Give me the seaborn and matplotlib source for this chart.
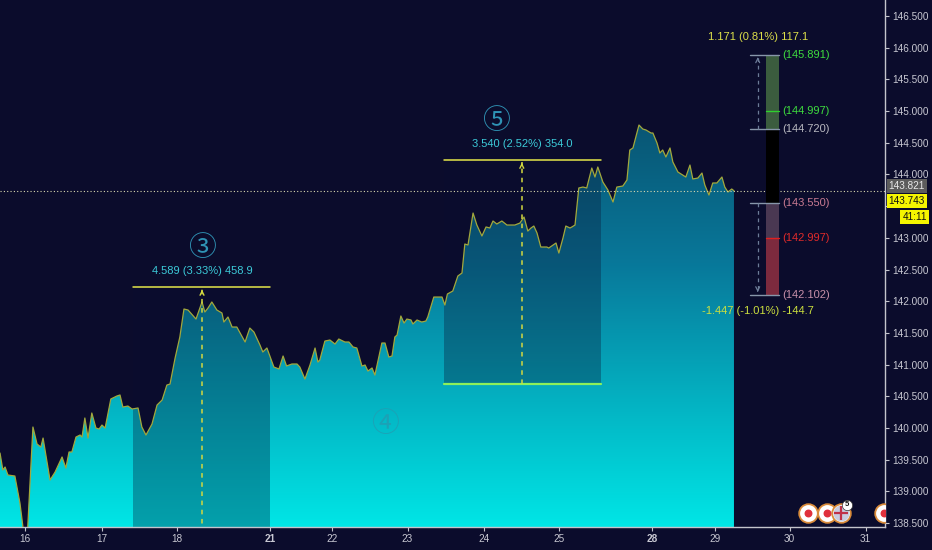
import numpy as np
import pandas as pd
import matplotlib
matplotlib.use("Agg")
import matplotlib.pyplot as plt
import matplotlib.transforms as mtransforms
from matplotlib.colors import LinearSegmentedColormap
from matplotlib.patches import Rectangle
import seaborn as sns

# ---------------- data (trading hours from left edge, price) ----------------
hours = [0.0, 0.9, 1.6, 2.5, 4.7, 6.3, 7.4, 8.7, 10.4, 11.7, 12.9, 13.6, 15.8, 17.4,
         19.6, 20.8, 21.8, 22.7, 24.0, 25.3, 25.9, 26.8, 27.8, 29.0, 30.3, 31.3, 32.2,
         33.2, 35.0, 36.9, 37.9, 38.8, 40.4, 41.7, 43.6, 44.8, 46.1, 48.0, 49.6, 51.2,
         52.7, 53.7, 55.3, 56.8, 58.1, 59.4, 61.9, 63.8, 64.7, 65.7, 66.9, 68.5, 70.1,
         70.7, 72.0, 73.3, 74.8, 77.4, 78.9, 80.2, 82.1, 83.0, 84.3, 86.5, 88.1, 89.4,
         90.5, 92.2, 93.8, 94.7, 96.3, 97.9, 99.5, 100.4, 101.0, 102.6, 104.2, 105.8,
         107.0, 108.9, 110.2, 111.5, 112.7, 114.3, 115.3, 116.2, 117.5, 118.4, 120.6,
         121.6, 122.8, 123.8, 124.7, 125.4, 126.6, 127.6, 128.5, 129.8, 130.4, 131.7,
         133.2, 134.5, 135.1, 137.0, 139.6, 140.5, 141.3, 143.0, 144.6, 145.9, 146.8,
         147.8, 149.4, 150.6, 152.2, 153.5, 154.7, 155.7, 156.9, 158.5, 160.1, 162.6,
         164.2, 165.5, 166.7, 167.7, 168.6, 169.6, 170.8, 172.7, 173.3, 175.6, 176.5,
         177.8, 178.7, 180.0, 180.6, 181.6, 182.8, 184.1, 185.3, 186.9, 187.9, 188.8,
         190.4, 192.0, 193.6, 194.8, 196.7, 198.0, 198.9, 199.9, 201.8, 203.0, 204.0,
         205.6, 206.2, 207.5, 208.4, 209.3, 210.3, 211.6, 212.5, 214.1, 216.6, 217.9,
         218.8, 220.4, 221.7, 222.6, 223.9, 225.1, 226.4, 228.0, 228.9, 229.9, 231.1,
         231.8]
prices = [139.607, 139.339, 139.386, 139.260, 139.244, 138.818, 138.380, 138.380,
          140.017, 139.749, 139.701, 139.843, 139.181, 139.307, 139.544, 139.370,
          139.623, 139.623, 139.859, 139.891, 139.859, 140.159, 139.843, 140.238,
          140.001, 139.985, 140.048, 140.001, 140.459, 140.506, 140.522, 140.332,
          140.348, 140.301, 140.317, 140.017, 139.891, 140.064, 140.364, 140.443,
          140.679, 140.695, 141.105, 141.437, 141.878, 141.862, 141.720, 141.989,
          141.831, 141.894, 141.989, 141.862, 141.815, 141.673, 141.752, 141.594,
          141.594, 141.358, 141.578, 141.515, 141.310, 141.200, 141.263, 140.963,
          140.932, 141.137, 140.980, 141.011, 141.011, 140.963, 140.774, 140.995,
          141.263, 141.042, 141.074, 141.373, 141.389, 141.326, 141.405, 141.358,
          141.358, 141.279, 141.263, 140.979, 140.995, 140.900, 140.948, 140.837,
          141.342, 141.342, 141.121, 141.137, 141.437, 141.468, 141.768, 141.657,
          141.720, 141.705, 141.642, 141.705, 141.673, 141.689, 141.752, 142.067,
          142.067, 141.941, 142.115, 142.162, 142.399, 142.446, 142.903, 142.888,
          143.392, 143.203, 143.030, 143.172, 143.156, 143.266, 143.219, 143.266,
          143.203, 143.203, 143.234, 143.329, 143.108, 143.156, 143.187, 143.077,
          142.856, 142.856, 142.840, 142.919, 142.761, 142.998, 143.187, 143.156,
          143.172, 143.203, 143.787, 143.802, 143.787, 144.102, 143.960, 144.118,
          143.881, 143.755, 143.566, 143.802, 143.818, 143.913, 144.386, 144.418,
          144.780, 144.717, 144.702, 144.654, 144.654, 144.496, 144.339, 144.386,
          144.276, 144.418, 144.197, 144.039, 143.960, 144.149, 143.929, 143.944,
          144.023, 143.834, 143.676, 143.866, 143.866, 143.960, 143.802, 143.724,
          143.771, 143.743]

day_ticks = [7.9, 32.2, 56.0, 85.3, 104.8, 128.7, 152.8, 176.7, 205.9, 225.8, 249.4, 273.4]
day_labels = ["16", "17", "18", "21", "22", "23", "24", "25", "28", "29", "30", "31"]
bold_days = ["21", "28"]
price_ticks = [138.5, 139.0, 139.5, 140.0, 140.5, 141.0, 141.5, 142.0, 142.5,
               143.0, 143.5, 144.0, 144.5, 145.0, 145.5, 146.0, 146.5]
hidden_tick = 143.5   # covered by the price tags

# measure boxes
box_start = [42.0, 140.2]
box_end = [85.3, 189.8]
box_arrow = [63.8, 164.8]
box_top = [142.225, 144.228]
box_change = [4.589, 3.540]
box_text = ["4.589 (3.33%) 458.9", "3.540 (2.52%) 354.0"]
box_number = ["③", "⑤"]
box_number_x = [63.8, 156.6]
wave4_pos = (121.6, 140.064)

# risk / reward tool
rr_left, rr_right, rr_arrow = 241.9, 246.0, 239.3
rr_target, rr_tp, rr_entry_hi = 145.891, 144.997, 144.720
rr_entry_lo, rr_sl, rr_stop = 143.550, 142.997, 142.102
rr_up_text = "1.171 (0.81%) 117.1"
rr_dn_text = "-1.447 (-1.01%) -144.7"

last_price = 143.743
prev_price = 143.821
countdown = "41:11"
event_x = [255.1, 261.1, 279.1]
flag_x = 265.6

# ---------------- style ----------------
BG = "#0b0c2c"
sns.set_theme(style="dark")
plt.rcParams["font.family"] = ["Liberation Sans", "DejaVu Sans"]
plt.rcParams["axes.facecolor"] = BG
plt.rcParams["figure.facecolor"] = BG
CIRCLED = ["Noto Sans CJK SC", "DejaVu Sans"]

fig = plt.figure(figsize=(9.32, 5.5), dpi=100)
ax = fig.add_axes([0.0, 23 / 550, 885 / 932, 527 / 550])
ax.set_facecolor(BG)
XMAX = 279.5
YLO, YHI = 138.44, 146.752
ax.set_xlim(0, XMAX)
ax.set_ylim(YLO, YHI)

df = pd.DataFrame({"hour": hours, "price": prices})

# gradient area
poly = ax.fill_between(df["hour"], df["price"], 130, color="none", lw=0)
cmap = LinearSegmentedColormap.from_list("area", ["#0a3752", "#08789a", "#00e6e6"])
im = ax.imshow(np.linspace(0, 1, 256).reshape(-1, 1), extent=[0, XMAX, YLO, YHI],
               aspect="auto", cmap=cmap, origin="upper", zorder=1, vmin=0, vmax=1)
im.set_clip_path(poly.get_paths()[0], transform=ax.transData)

# measure box overlays
for i in range(2):
    bottom = box_top[i] - box_change[i]
    ax.add_patch(Rectangle((box_start[i], bottom), box_end[i] - box_start[i],
                           box_change[i], facecolor="#0a0f30", alpha=0.32,
                           edgecolor="none", zorder=2))

# price line
sns.lineplot(data=df, x="hour", y="price", ax=ax, color="#a3a83c", lw=0.9,
             estimator=None, sort=False, zorder=4)

# dotted last-price line
ax.axhline(last_price, color="#d8d8b0", lw=0.8, ls=(0, (1, 2)), zorder=5)

# measure lines / arrows / labels
for i in range(2):
    bottom = box_top[i] - box_change[i]
    ax.plot([box_start[i], box_end[i]], [box_top[i], box_top[i]], color="#e4e64a",
            lw=1.1, zorder=6)
    if bottom > YLO:
        ax.plot([box_start[i], box_end[i]], [bottom, bottom], color="#8cf05a",
                lw=1.6, zorder=6)
    ax.plot([box_arrow[i], box_arrow[i]], [bottom, box_top[i] - 0.03], color="#d2d840",
            lw=1.1, ls=(0, (3, 3)), zorder=6)
    ax.annotate("", xy=(box_arrow[i], box_top[i]), xytext=(box_arrow[i], box_top[i] - 0.12),
                arrowprops=dict(arrowstyle="->", color="#d2d840", lw=1.0,
                                mutation_scale=7), zorder=6)
    ax.annotate(box_text[i], xy=(box_arrow[i], box_top[i]), xytext=(0, 11.5),
                textcoords="offset points", ha="center", va="center",
                color="#3ccad8", fontsize=8, zorder=7)
    ax.annotate(box_number[i], xy=(box_number_x[i], box_top[i]),
                xytext=(0, 28), textcoords="offset points", ha="center", va="center",
                color="#2f93b5", fontsize=20, family=CIRCLED, zorder=7)
ax.text(wave4_pos[0], wave4_pos[1], "④", ha="center", va="center", color="#1f9fb4",
        fontsize=20, family=CIRCLED, zorder=3, alpha=0.9)

# risk / reward tool
w = rr_right - rr_left
ax.add_patch(Rectangle((rr_left, rr_entry_hi), w, rr_target - rr_entry_hi,
                       facecolor="#3b5c3e", edgecolor="none", zorder=6))
ax.add_patch(Rectangle((rr_left, rr_entry_lo), w, rr_entry_hi - rr_entry_lo,
                       facecolor="#000000", edgecolor="none", zorder=6))
ax.add_patch(Rectangle((rr_left, rr_sl), w, rr_entry_lo - rr_sl,
                       facecolor="#4a3852", edgecolor="none", zorder=6))
ax.add_patch(Rectangle((rr_left, rr_stop), w, rr_sl - rr_stop,
                       facecolor="#7c2a3e", edgecolor="none", zorder=6))
ax.plot([rr_left, rr_right], [rr_tp, rr_tp], color="#2ed02e", lw=1, zorder=7)
ax.plot([rr_left, rr_right], [rr_sl, rr_sl], color="#e02020", lw=1, zorder=7)
for lvl in [rr_target, rr_entry_hi, rr_entry_lo, rr_stop]:
    ax.plot([rr_arrow - 2.5, rr_right], [lvl, lvl], color="#8796aa", lw=1, zorder=7)
ax.plot([rr_arrow, rr_arrow], [rr_entry_hi, rr_target - 0.05], color="#6c7c98", lw=0.9,
        ls=(0, (3, 3)), zorder=7)
ax.plot([rr_arrow, rr_arrow], [rr_entry_lo, rr_stop + 0.05], color="#6c7c98", lw=0.9,
        ls=(0, (3, 3)), zorder=7)
ax.annotate("", xy=(rr_arrow, rr_target), xytext=(rr_arrow, rr_target - 0.12),
            arrowprops=dict(arrowstyle="->", color="#6c7c98", lw=0.9, mutation_scale=7))
ax.annotate("", xy=(rr_arrow, rr_stop), xytext=(rr_arrow, rr_stop + 0.12),
            arrowprops=dict(arrowstyle="->", color="#6c7c98", lw=0.9, mutation_scale=7))
rr_labels = [(rr_target, "#3edc3e"), (rr_tp, "#3edc3e"), (rr_entry_hi, "#b8b8c0"),
             (rr_entry_lo, "#c97a92"), (rr_sl, "#e02a2a"), (rr_stop, "#c890aa")]
for lvl, col in rr_labels:
    ax.text(rr_right + 1.1, lvl, f"({lvl:.3f})", color=col, fontsize=8,
            ha="left", va="center", zorder=8)
ax.annotate(rr_up_text, xy=(rr_arrow, rr_target), xytext=(0, 12.5), textcoords="offset points",
            ha="center", va="center", color="#dde04a", fontsize=8)
ax.annotate(rr_dn_text, xy=(rr_arrow, rr_stop), xytext=(0, -12), textcoords="offset points",
            ha="center", va="center", color="#cde03e", fontsize=8)

# event icons
ev_y = YLO + 0.22
ax.scatter(event_x + [flag_x], [ev_y] * 4, s=180, facecolor="white", edgecolor="#d98b3a",
           linewidth=1.3, zorder=9)
ax.scatter(event_x, [ev_y] * 3, s=22, color="#e0303c", zorder=10)
ax.scatter([flag_x], [ev_y], s=110, color="#c8cce0", zorder=10)
ax.scatter([flag_x], [ev_y], s=90, marker="+", color="#c03048", linewidth=1.6, zorder=11)
ax.scatter([flag_x + 2.0], [ev_y + 0.13], s=55, facecolor="white", edgecolor="#333",
           linewidth=0.5, zorder=12)
ax.text(flag_x + 2.0, ev_y + 0.13, "5", fontsize=5.5, ha="center", va="center",
        color="#111", zorder=13, weight="bold")

# axes
for s in ["top", "left"]:
    ax.spines[s].set_visible(False)
for s in ["right", "bottom"]:
    ax.spines[s].set_visible(True)
    ax.spines[s].set_color("#c4c4cc")
    ax.spines[s].set_linewidth(1.0)
ax.yaxis.tick_right()
ax.set_yticks(price_ticks)
ax.set_yticklabels(["" if v == hidden_tick else f"{v:.3f}" for v in price_ticks])
ax.set_xticks(day_ticks)
ax.set_xticklabels(day_labels)
for lab in ax.get_xticklabels():
    if lab.get_text() in bold_days:
        lab.set_fontweight("bold")
ax.tick_params(axis="both", colors="#c4c4cc", labelcolor="#c8c8d2", labelsize=7.2,
               length=3, width=0.8, direction="out", pad=2)
ax.tick_params(axis="y", right=True, left=False, labelright=True, labelleft=False)
ax.tick_params(axis="x", bottom=True)
ax.set_xlabel("")
ax.set_ylabel("")
ax.grid(False)

# price tags on right axis
tr = mtransforms.blended_transform_factory(ax.transAxes, ax.transData)
ax.text(1.004, prev_price, f"{prev_price:.3f}", transform=tr, fontsize=7.2, color="#e8e8e8",
        ha="left", va="center", clip_on=False, zorder=20,
        bbox=dict(boxstyle="square,pad=0.2", fc="#5c5c5c", ec="none"))
ax.annotate(f"{last_price:.3f}", xy=(1.004, last_price), xycoords=tr, xytext=(0, -7.5),
            textcoords="offset points", fontsize=7.2, color="#111", ha="left", va="center",
            annotation_clip=False, zorder=20,
            bbox=dict(boxstyle="square,pad=0.2", fc="#f5f500", ec="none"))
ax.annotate(countdown, xy=(1.004, last_price), xycoords=tr, xytext=(10, -19),
            textcoords="offset points", fontsize=7.2, color="#111", ha="left", va="center",
            annotation_clip=False, zorder=20,
            bbox=dict(boxstyle="square,pad=0.2", fc="#f5f500", ec="none"))

fig.savefig("out.png", dpi=100, facecolor=BG)
